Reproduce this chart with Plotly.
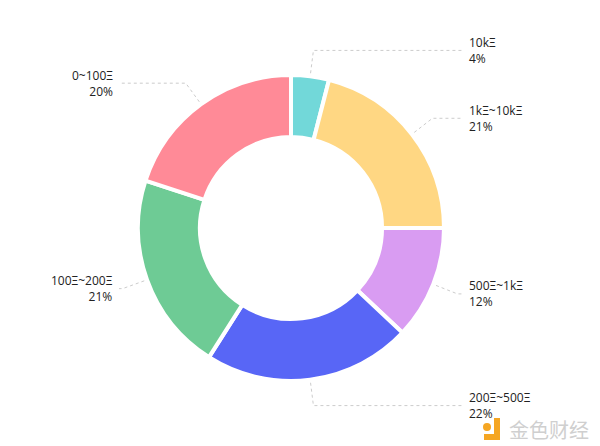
import math
import plotly.graph_objects as go

labels = ["10kΞ", "1kΞ~10kΞ", "500Ξ~1kΞ", "200Ξ~500Ξ", "100Ξ~200Ξ", "0~100Ξ"]
values = [4, 21, 12, 22, 21, 20]
colors = ["#72d8d9", "#ffd783", "#d99cf2", "#5866f6", "#6ecb95", "#ff8a97"]

W, H = 600, 446
CX, CY = 291, 228          # pie centre (px)
R_OUT = 153                # outer radius (px)
HOLE = 0.595
R_LINE0 = R_OUT + 3
R_LINE1 = R_OUT + 26
X_RIGHT_END, X_RIGHT_TXT = 462, 467
X_LEFT_END, X_LEFT_TXT = 119, 115


def px(x):
    return x / W


def py(y):
    return 1 - y / H


fig = go.Figure()
fig.add_trace(go.Pie(
    labels=labels, values=values, sort=False, direction="clockwise", rotation=0,
    hole=HOLE, textinfo="none", hoverinfo="label+percent",
    marker=dict(colors=colors, line=dict(color="white", width=4)),
    domain=dict(x=[px(CX - R_OUT), px(CX + R_OUT)], y=[py(CY + R_OUT), py(CY - R_OUT)]),
    showlegend=False,
))

shapes = []
annotations = []
total = sum(values)
cum = 0
for lab, v in zip(labels, values):
    mid = (cum + v / 2) / total * 2 * math.pi
    cum += v
    sx, sy = math.sin(mid), -math.cos(mid)
    x0, y0 = CX + R_LINE0 * sx, CY + R_LINE0 * sy
    x1, y1 = CX + R_LINE1 * sx, CY + R_LINE1 * sy
    right = sx >= 0
    x2 = X_RIGHT_END if right else X_LEFT_END
    path = f"M {px(x0)},{py(y0)} L {px(x1)},{py(y1)} L {px(x2)},{py(y1)}"
    shapes.append(dict(type="path", xref="paper", yref="paper", path=path,
                       line=dict(color="#cccccc", width=1, dash="dot")))
    pct = round(v / total * 100)
    annotations.append(dict(
        x=px(X_RIGHT_TXT if right else X_LEFT_TXT), y=py(y1), xref="paper", yref="paper",
        text=f"{lab}<br>{pct}%", showarrow=False,
        xanchor="left" if right else "right", yanchor="middle",
        align="left" if right else "right",
        font=dict(size=12, color="#222222", family="Open Sans, Noto Sans, sans-serif"),
    ))

# watermark
annotations.append(dict(
    x=px(591), y=py(429), xref="paper", yref="paper", text="金色财经", showarrow=False,
    xanchor="right", yanchor="middle",
    font=dict(size=20, color="#cfcfcf", family="Noto Sans CJK SC"),
))
shapes.append(dict(type="path", xref="paper", yref="paper",
                   path=f"M {px(500)},{py(418)} L {px(500)},{py(440)} L {px(484)},{py(440)} L {px(484)},{py(434)} L {px(494)},{py(434)} L {px(494)},{py(418)} Z",
                   fillcolor="#f5a623", line=dict(width=0)))
shapes.append(dict(type="circle", xref="paper", yref="paper",
                   x0=px(483), x1=px(491), y0=py(431), y1=py(423),
                   fillcolor="#f5a623", line=dict(width=0)))

fig.update_layout(
    width=W, height=H, margin=dict(l=0, r=0, t=0, b=0),
    paper_bgcolor="white", plot_bgcolor="white",
    shapes=shapes, annotations=annotations,
)
fig.write_html("out.html", config={"displayModeBar": False},
               post_script="document.body.style.margin='0';document.body.style.padding='0';")
